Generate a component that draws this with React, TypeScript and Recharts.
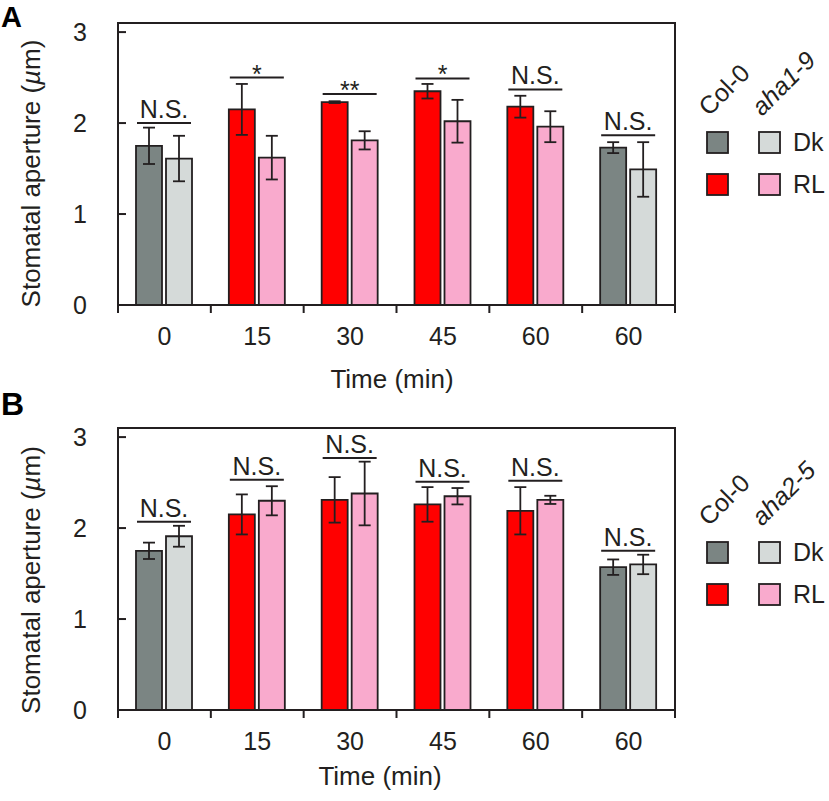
import React from "react";
import { BarChart, Bar, XAxis, YAxis, ErrorBar, Cell, ReferenceArea } from "recharts";

const categories = ["0", "15", "30", "45", "60", "60"];
const conditions = ["Dk", "RL", "RL", "RL", "RL", "Dk"];
const legendConditions = ["Dk", "RL"];

// panel A: Col-0 vs aha1-9
const colMeansA = [1.75, 2.15, 2.23, 2.35, 2.18, 1.73];
const colErrA = [0.2, 0.28, 0.01, 0.08, 0.12, 0.06];
const ahaMeansA = [1.61, 1.62, 1.81, 2.02, 1.96, 1.49];
const ahaErrA = [0.25, 0.24, 0.1, 0.235, 0.17, 0.3];
const sigYA = [2.0, 2.5, 2.32, 2.49, 2.37, 1.865];
const sigLabelsA = ["N.S.", "*", "**", "*", "N.S.", "N.S."];

// panel B: Col-0 vs aha2-5
const colMeansB = [1.75, 2.15, 2.31, 2.26, 2.19, 1.57];
const colErrB = [0.09, 0.22, 0.25, 0.19, 0.26, 0.085];
const ahaMeansB = [1.91, 2.3, 2.38, 2.35, 2.31, 1.6];
const ahaErrB = [0.115, 0.16, 0.35, 0.09, 0.045, 0.107];
const sigYB = [2.07, 2.53, 2.77, 2.51, 2.52, 1.75];
const sigLabelsB = ["N.S.", "N.S.", "N.S.", "N.S.", "N.S.", "N.S."];

const yTicks = [0, 1, 2, 3];

const INK = "#231f20";
const FONT = "'Liberation Sans', Arial, sans-serif";
const colFill: Record<string, string> = { Dk: "#7b8583", RL: "#ff0000" };
const ahaFill: Record<string, string> = { Dk: "#d5dad9", RL: "#f9aacd" };

const TimeTick = (props: any) => {
  const { x, y, payload, index } = props;
  const half = payload && payload.offset ? payload.offset : 557 / categories.length / 2;
  return (
    <g>
      <line x1={x - half} x2={x - half} y1={y} y2={y + 8} stroke={INK} strokeWidth={2} />
      {index === categories.length - 1 && (
        <line x1={x + half} x2={x + half} y1={y} y2={y + 8} stroke={INK} strokeWidth={2} />
      )}
      <text x={x} y={y + 40} textAnchor="middle" fontSize={25} fontFamily={FONT} fill={INK}>
        {payload.value}
      </text>
    </g>
  );
};

const ValueTick = (props: any) => {
  const { x, y, payload } = props;
  return (
    <g>
      <line x1={x} x2={x + 8} y1={y} y2={y} stroke={INK} strokeWidth={2} />
      <text x={x - 31} y={y + 9} textAnchor="end" fontSize={25} fontFamily={FONT} fill={INK}>
        {payload.value}
      </text>
    </g>
  );
};

const SigShape = (props: any) => {
  const { x, y, width, payload } = props;
  const label = payload.sigLabel;
  const star = label !== "N.S.";
  return (
    <g>
      <line x1={x} x2={x + width} y1={y} y2={y} stroke={INK} strokeWidth={2} />
      <text
        x={x + width / 2}
        y={star ? y + 5 : y - 5}
        textAnchor="middle"
        fontSize={25}
        fontFamily={FONT}
        fill={INK}
      >
        {label}
      </text>
    </g>
  );
};

interface PanelProps {
  col: number[];
  colErr: number[];
  aha: number[];
  ahaErr: number[];
  sigY: number[];
  sigLabels: string[];
  top: number;
}

const Panel = ({ col, colErr, aha, ahaErr, sigY, sigLabels, top }: PanelProps) => {
  const data = categories.map((t, i) => ({
    time: t,
    cond: conditions[i],
    col: col[i],
    colErr: colErr[i],
    aha: aha[i],
    ahaErr: ahaErr[i],
    sig: sigY[i],
    sigLabel: sigLabels[i],
  }));
  return (
    <div style={{ position: "absolute", left: 0, top }}>
      <BarChart
        width={829}
        height={400}
        data={data}
        margin={{ top: 23, right: 154, left: 58, bottom: 65 }}
        barCategoryGap={18}
        barGap={4}
      >
        <XAxis
          dataKey="time"
          height={30}
          axisLine={{ stroke: INK, strokeWidth: 2 }}
          tickLine={false}
          tickSize={0}
          tickMargin={0}
          tick={<TimeTick />}
          interval={0}
        />
        <XAxis dataKey="time" xAxisId="sig" hide height={0} />
        <YAxis
          domain={[0, 3.1]}
          ticks={yTicks}
          width={60}
          axisLine={{ stroke: INK, strokeWidth: 2 }}
          tickLine={false}
          tickSize={0}
          tickMargin={0}
          tick={<ValueTick />}
          interval={0}
        />
        <ReferenceArea y1={0} y2={3.1} fill="none" stroke={INK} strokeWidth={2} />
        <Bar dataKey="col" stroke={INK} strokeWidth={1.8} isAnimationActive={false}>
          {data.map((d, i) => (
            <Cell key={i} fill={colFill[d.cond]} />
          ))}
          <ErrorBar dataKey="colErr" width={6} stroke={INK} strokeWidth={1.8} />
        </Bar>
        <Bar dataKey="aha" stroke={INK} strokeWidth={1.8} isAnimationActive={false}>
          {data.map((d, i) => (
            <Cell key={i} fill={ahaFill[d.cond]} />
          ))}
          <ErrorBar dataKey="ahaErr" width={6} stroke={INK} strokeWidth={1.8} />
        </Bar>
        <Bar dataKey="sig" xAxisId="sig" barSize={54} fill="none" shape={SigShape} isAnimationActive={false} />
      </BarChart>
    </div>
  );
};

const Legend = ({ mutant, dy }: { mutant: string; dy: number }) => (
  <g fontFamily={FONT} fill={INK}>
    <text x={709} y={117 + dy} fontSize={25} transform={`rotate(-45 709 ${117 + dy})`}>
      Col-0
    </text>
    <text x={762} y={117 + dy} fontSize={25} fontStyle="italic" transform={`rotate(-45 762 ${117 + dy})`}>
      {mutant}
    </text>
    {legendConditions.map((c, i) => (
      <g key={c}>
        <rect x={707} y={132 + dy + i * 42} width={21} height={21} fill={colFill[c]} stroke={INK} strokeWidth={1.8} />
        <rect x={759} y={132 + dy + i * 42} width={21} height={21} fill={ahaFill[c]} stroke={INK} strokeWidth={1.8} />
        <text x={793} y={151 + dy + i * 42} fontSize={25}>
          {c}
        </text>
      </g>
    ))}
  </g>
);

const YTitle = ({ cy }: { cy: number }) => (
  <text x={40} y={cy} fontSize={26} textAnchor="middle" fontFamily={FONT} fill={INK} transform={`rotate(-90 40 ${cy})`}>
    Stomatal aperture (<tspan fontStyle="italic">µ</tspan>m)
  </text>
);

export default function App() {
  return (
    <div style={{ position: "absolute", left: 0, top: 0, width: 829, height: 801, background: "#fff", fontFamily: FONT }}>
      <Panel col={colMeansA} colErr={colErrA} aha={ahaMeansA} ahaErr={ahaErrA} sigY={sigYA} sigLabels={sigLabelsA} top={0} />
      <Panel col={colMeansB} colErr={colErrB} aha={ahaMeansB} ahaErr={ahaErrB} sigY={sigYB} sigLabels={sigLabelsB} top={404.5} />
      <svg width={829} height={801} style={{ position: "absolute", left: 0, top: 0, pointerEvents: "none" }}>
        <text x={1} y={27} fontSize={29} fontWeight="bold" fontFamily={FONT} fill="#000">A</text>
        <text x={1} y={415} fontSize={32} fontWeight="bold" fontFamily={FONT} fill="#000">B</text>
        <YTitle cy={173.5} />
        <YTitle cy={580} />
        <text x={392} y={388} fontSize={26} textAnchor="middle" fontFamily={FONT} fill={INK}>Time (min)</text>
        <text x={380} y={785} fontSize={26} textAnchor="middle" fontFamily={FONT} fill={INK}>Time (min)</text>
        <Legend mutant="aha1-9" dy={0} />
        <Legend mutant="aha2-5" dy={410} />
      </svg>
    </div>
  );
}
